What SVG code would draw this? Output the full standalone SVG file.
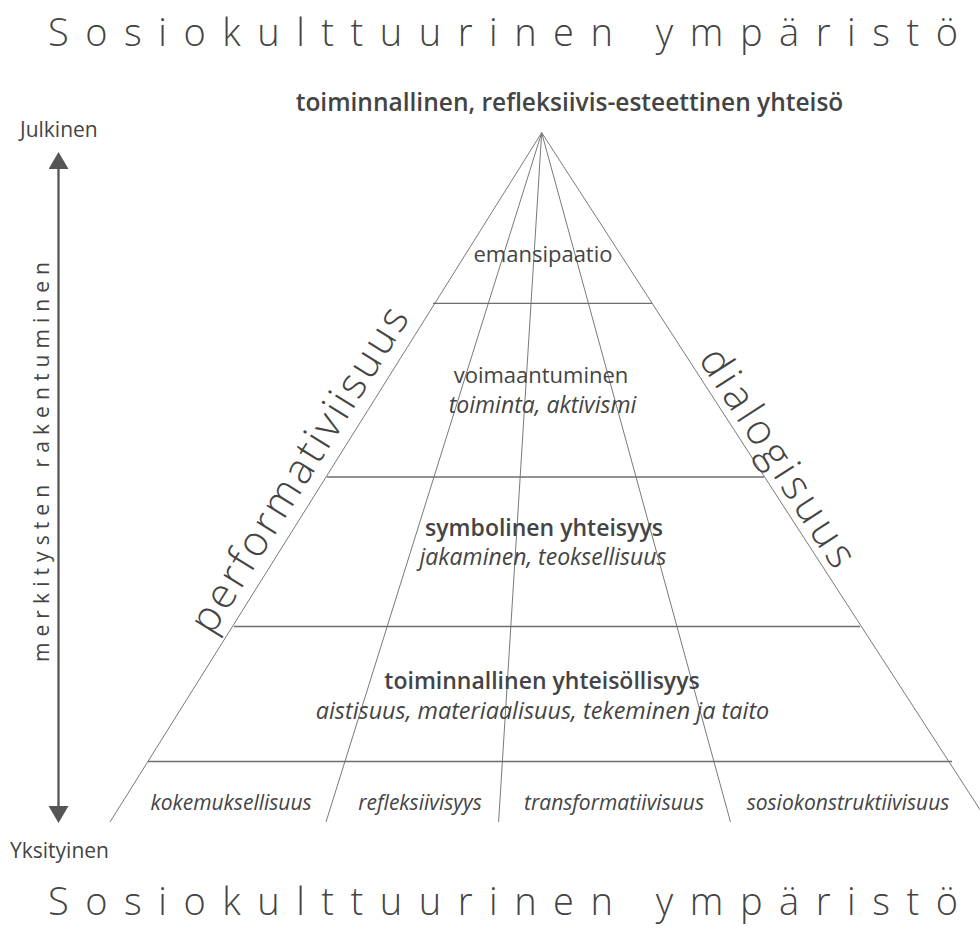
<svg xmlns="http://www.w3.org/2000/svg" width="980" height="929" viewBox="0 0 980 929">
<style>
  text { font-family: "Open Sans", "Noto Sans", "DejaVu Sans", sans-serif; fill: #444; }
  .title { font-size: 38px; font-weight: 300; }
  .axis { font-size: 21px; }
  .lvl { font-size: 22px; text-anchor: middle; }
  .b { font-weight: 600; font-size: 23px; }
  .it { font-style: italic; font-size: 23px; }
  .bot { font-size: 21px; font-style: italic; text-anchor: middle; }
  .side { font-size: 42px; font-weight: 300; text-anchor: middle; }
  .ray { stroke: #7a7a7a; stroke-width: 1; fill: none; }
  .hz { stroke: #6e6e6e; stroke-width: 1.3; fill: none; }
</style>
<defs>
  <marker id="ah" viewBox="0 0 17 20" refX="9" refY="10" markerWidth="17" markerHeight="20" markerUnits="userSpaceOnUse" orient="auto-start-reverse">
    <path d="M0,0 L17,10 L0,20 z" fill="#555"/>
  </marker>
</defs>
<rect width="980" height="929" fill="#fff"/>

<g id="title-top"><text class="title" x="48" y="46" textLength="910" lengthAdjust="spacing">Sosiokulttuurinen ympäristö</text></g>
<g id="title-bottom"><text class="title" x="48" y="915" textLength="910" lengthAdjust="spacing">Sosiokulttuurinen ympäristö</text></g>

<g id="connectors">
  <line class="ray" x1="541.7" y1="132.7" x2="110" y2="822"/>
  <line class="ray" x1="541.7" y1="132.7" x2="326" y2="822"/>
  <line class="ray" x1="541.7" y1="132.7" x2="498.6" y2="822"/>
  <line class="ray" x1="541.7" y1="132.7" x2="730.5" y2="822"/>
  <line class="ray" x1="541.7" y1="132.7" x2="988" y2="822"/>
  <line class="hz" x1="433" y1="303.3" x2="652" y2="303.3" stroke="#999"/>
  <line class="hz" x1="327" y1="477" x2="764" y2="477"/>
  <line class="hz" x1="234" y1="626.5" x2="860" y2="626.5"/>
  <line class="hz" x1="148" y1="761.5" x2="952" y2="761.5" stroke-width="2" stroke="#777"/>
  <line x1="58.5" y1="160" x2="58.5" y2="815" stroke="#555" stroke-width="2.3" marker-start="url(#ah)" marker-end="url(#ah)"/>
</g>

<g id="axis-labels">
  <text class="axis" x="20" y="137">Julkinen</text>
  <text class="axis" x="10" y="858" font-size="20.5">Yksityinen</text>
  <text class="axis" transform="translate(49,462) rotate(-90)" text-anchor="middle" textLength="400" lengthAdjust="spacing">merkitysten rakentuminen</text>
</g>

<g id="apex-label"><text class="lvl b" x="569.5" y="111" style="font-size:24.5px">toiminnallinen, refleksiivis-esteettinen yhteisö</text></g>

<g id="side-performativiisuus"><text class="side" transform="translate(311,477) rotate(-58.1)" textLength="375" lengthAdjust="spacing">performativiisuus</text></g>
<g id="side-dialogisuus"><text class="side" transform="translate(766,465) rotate(57.2)" textLength="252" lengthAdjust="spacing">dialogisuus</text></g>

<g id="level-emansipaatio"><text class="lvl" x="543" y="262">emansipaatio</text></g>
<g id="level-voimaantuminen">
  <text class="lvl" x="541" y="383">voimaantuminen</text>
  <text class="lvl it" x="542.5" y="413">toiminta, aktivismi</text>
</g>
<g id="level-symbolinen">
  <text class="lvl b" x="544" y="536">symbolinen yhteisyys</text>
  <text class="lvl it" x="543" y="565">jakaminen, teoksellisuus</text>
</g>
<g id="level-toiminnallinen">
  <text class="lvl b" x="542" y="689">toiminnallinen yhteisöllisyys</text>
  <text class="lvl it" x="542.5" y="719" style="font-size:23.4px">aistisuus, materiaalisuus, tekeminen ja taito</text>
</g>

<g id="base-kokemuksellisuus"><text class="bot" x="231" y="810">kokemuksellisuus</text></g>
<g id="base-refleksiivisyys"><text class="bot" x="420" y="810">refleksiivisyys</text></g>
<g id="base-transformatiivisuus"><text class="bot" x="614" y="810">transformatiivisuus</text></g>
<g id="base-sosiokonstruktiivisuus"><text class="bot" x="848" y="810">sosiokonstruktiivisuus</text></g>
</svg>
